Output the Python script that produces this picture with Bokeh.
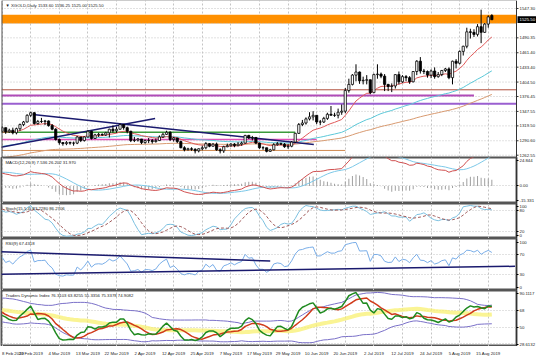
import numpy as np
from bokeh.plotting import figure
from bokeh.layouts import column
from bokeh.models import Range1d, FixedTicker, Label, BoxAnnotation, ColumnDataSource, Span
from bokeh.core.properties import value
from bokeh.embed import file_html
from bokeh.resources import INLINE

# ---------------- data ----------------
opens = [1309,1316,1308,1311,1306,1314,1322,1327,1340,1345,
 1324,1328,1328,1329,1320,1313,1293,1287,1285,1287,
 1286,1286,1298,1291,1298,1309,1295,1302,1303,1302,
 1306,1313,1310,1313,1322,1316,1309,1291,1292,1294,
 1287,1291,1291,1289,1291,1298,1303,1307,1293,1296,
 1289,1277,1273,1275,1274,1271,1275,1277,1285,1280,
 1284,1273,1271,1279,1281,1284,1281,1284,1286,1301,
 1296,1297,1286,1277,1277,1270,1273,1283,1285,1284,
 1279,1280,1288,1305,1322,1325,1333,1337,1340,1327,
 1327,1334,1342,1340,1340,1346,1348,1388,1400,1418,
 1424,1407,1408,1409,1384,1419,1420,1416,1400,1396,
 1397,1419,1405,1415,1413,1405,1425,1445,1426,1425,
 1418,1426,1415,1419,1427,1430,1413,1445,1441,1464,
 1474,1502,1501,1497,1512,1501,1517,1533.6]
highs = [1319,1316,1314,1316,1316,1324,1329,1342,1347,1346,
 1331,1335,1331,1330,1323,1315,1295,1288,1290,1289,
 1289,1300,1298,1299,1311,1310,1304,1306,1305,1308,
 1314,1320,1318,1324,1323,1318,1310,1298,1296,1294,
 1293,1296,1294,1295,1301,1306,1310,1309,1298,1296,
 1291,1280,1277,1278,1276,1276,1281,1288,1286,1286,
 1287,1276,1281,1285,1286,1286,1288,1289,1302,1302,
 1300,1298,1287,1280,1277,1275,1286,1288,1287,1286,
 1284,1290,1306,1325,1331,1336,1346,1348,1340,1331,
 1337,1345,1358,1345,1353,1361,1393,1411,1420,1439,
 1425,1415,1418,1409,1421,1439,1423,1420,1401,1402,
 1420,1425,1418,1418,1416,1426,1447,1453,1430,1427,
 1429,1433,1424,1428,1432,1433,1446,1449,1466,1475,
 1510,1508,1507,1517,1545,1519,1534,1536.25]
lows = [1306,1304,1306,1303,1303,1310,1319,1326,1337,1322,
 1322,1325,1321,1318,1311,1291,1283,1281,1282,1283,
 1281,1284,1288,1289,1297,1293,1294,1298,1300,1300,
 1297,1306,1306,1312,1312,1305,1288,1288,1289,1284,
 1285,1286,1285,1287,1290,1296,1302,1290,1289,1286,
 1276,1270,1272,1271,1266,1268,1272,1274,1278,1279,
 1271,1266,1267,1278,1279,1278,1280,1281,1285,1294,
 1291,1284,1275,1273,1268,1269,1272,1281,1282,1277,
 1275,1278,1287,1304,1319,1322,1330,1330,1323,1321,
 1325,1331,1340,1337,1334,1341,1344,1384,1398,1406,
 1401,1400,1400,1381,1383,1411,1412,1387,1387,1385,
 1392,1400,1403,1406,1401,1404,1418,1421,1420,1413,
 1412,1411,1413,1416,1424,1410,1400,1431,1439,1456,
 1470,1489,1492,1493,1480,1500,1510,1525]
closes = [1316,1308,1311,1306,1314,1322,1327,1340,1345,1324,
 1328,1328,1329,1320,1313,1293,1287,1285,1287,1286,
 1286,1298,1291,1298,1309,1295,1302,1303,1302,1306,
 1313,1310,1313,1322,1316,1309,1291,1292,1294,1287,
 1291,1291,1289,1291,1298,1303,1307,1293,1296,1289,
 1277,1273,1275,1274,1271,1275,1277,1285,1280,1284,
 1273,1271,1279,1281,1284,1281,1284,1286,1301,1296,
 1297,1286,1277,1277,1270,1273,1283,1285,1284,1279,
 1280,1288,1305,1322,1325,1333,1337,1340,1327,1327,
 1334,1342,1340,1340,1346,1348,1388,1400,1418,1424,
 1407,1408,1409,1384,1419,1420,1416,1400,1396,1397,
 1419,1405,1415,1413,1405,1425,1445,1426,1425,1418,
 1426,1415,1419,1427,1430,1413,1445,1441,1464,1474,
 1502,1501,1497,1512,1501,1517,1531,1525.5]
# closes before the first visible bar, only used to warm up the indicators
warmup_closes = [1211,1215,1222,1224,1222,1227,1227,1223,1222,1214,1221,1225,1222,
 1231,1239,1237,1238,1248,1244,1244,1246,1242,1238,1245,1249,1256,1258,1257,1269,1267,1276,1281,1282,
 1284,1294,1285,1289,1284,1292,1287,1290,1291,1288,1294,1292,1282,1277,1283,1283,1280,1298,1303,1312,
 1319,1321,1318,1312,1315,1307,1310]

date_labels = ["8 Feb 2019","20 Feb 2019","4 Mar 2019","13 Mar 2019","22 Mar 2019","2 Apr 2019",
 "12 Apr 2019","25 Apr 2019","7 May 2019","17 May 2019","29 May 2019","10 Jun 2019","20 Jun 2019",
 "2 Jul 2019","12 Jul 2019","24 Jul 2019","5 Aug 2019","15 Aug 2019"]
date_bars = [0,8,16,24,32,40,48,56,64,72,80,88,96,104,112,120,128,136]

price_ticks = [1547.30,1490.35,1461.40,1433.40,1404.50,1376.45,1347.55,1319.50,1290.60,1262.55]
price_grid = [1547.30,1518.35,1490.35,1461.40,1433.40,1404.50,1376.45,1347.55,1319.50,1290.60,1262.55]
last_price = 1525.50
zone_low, zone_high = 1518.0, 1535.0

hline_prices = [1389.5, 1378.5, 1362.4, 1307.3, 1293.0, 1271.8]
hline_end_bars = [143.9, 132.0, 143.9, 82.0, 88.0, 96.0]
trend_a_bars, trend_a_prices = [8.6, 87.2], [1341.6, 1283.3]
trend_b_bars, trend_b_prices = [-0.7, 42.8], [1277.5, 1333.8]
rsi_tl1_bars, rsi_tl1_vals = [-0.7, 75.0], [74.6, 56.8]
rsi_tl2_bars, rsi_tl2_vals = [-0.7, 143.5], [31.4, 46.6]

macd_min, macd_max = -15.331, 24.844
tdi_min, tdi_max = 28.6132, 90.1117

# ---------------- indicators ----------------
allc = np.array(warmup_closes + closes, float)
allh = np.array(warmup_closes + highs, float)
alll = np.array(warmup_closes + lows, float)
W0 = len(warmup_closes)
N = len(closes)
bars = np.arange(N)

def ema(x, n):
    a = 2.0 / (n + 1); out = np.empty(len(x)); out[0] = x[0]
    for i in range(1, len(x)):
        out[i] = a * x[i] + (1 - a) * out[i - 1]
    return out

def sma(x, n):
    return np.array([x[max(0, i - n + 1):i + 1].mean() for i in range(len(x))])

def rstd(x, n):
    return np.array([x[max(0, i - n + 1):i + 1].std() for i in range(len(x))])

def rsi(c, n):
    d = np.diff(c); g = np.maximum(d, 0); l = np.maximum(-d, 0)
    out = np.full(len(c), 50.0)
    ag = g[:n].mean(); al = l[:n].mean()
    for i in range(n, len(c)):
        if i > n:
            ag = (ag * (n - 1) + g[i - 1]) / n; al = (al * (n - 1) + l[i - 1]) / n
        out[i] = 100.0 if al == 0 else 100 - 100 / (1 + ag / al)
    return out

def stoch(h, l, c, k, d, s):
    hh = np.array([h[max(0, i - k + 1):i + 1].max() for i in range(len(c))])
    ll = np.array([l[max(0, i - k + 1):i + 1].min() for i in range(len(c))])
    num = c - ll; den = hh - ll
    K = np.array([100 * num[max(0, i - s + 1):i + 1].sum() / max(den[max(0, i - s + 1):i + 1].sum(), 1e-9)
                  for i in range(len(c))])
    return K, sma(K, d)

ma_red = ema(allc, 13)[W0:]
ma_cyan = ema(allc, 50)[W0:]
ma_tan = ema(allc, 100)[W0:]
macd_main = (ema(allc, 12) - ema(allc, 26))
macd_sig = sma(macd_main, 9)
macd_hist = (macd_main - macd_sig)[W0:]
macd_main = macd_main[W0:]; macd_sig = macd_sig[W0:]
st_k, st_d = stoch(allh, alll, allc, 15, 5, 4)
st_k = st_k[W0:]; st_d = st_d[W0:]
rsi9 = rsi(allc, 9)[W0:]
r13 = rsi(allc, 13)
tdi_green = sma(r13, 2)[W0:]
tdi_red = sma(r13, 7)[W0:]
tdi_mid = sma(r13, 34)
tdi_sd = rstd(r13, 34)
tdi_up = (tdi_mid + 1.6185 * tdi_sd)[W0:]
tdi_dn = (tdi_mid - 1.6185 * tdi_sd)[W0:]
tdi_mid = tdi_mid[W0:]

# ---------------- layout ----------------
FONT = "Liberation Sans"
FS = "4.3px"
TXT = "#222222"
GRID = "#c4c4c4"
EDGE = "#555555"
FW = 515                       # plot area width of the indicator windows (px)
X0, X1 = -0.17, 143.9          # bar range across that width
PX = FW / (X1 - X0)            # pixels per bar
xr = Range1d(X0, X1)

def panel(fh, yr, ticks, grid_ticks, overrides):
    p = figure(frame_width=FW, frame_height=fh, x_range=xr, y_range=Range1d(*yr),
               output_backend="svg", toolbar_location=None, y_axis_location="right",
               min_border_left=1, min_border_right=20, min_border_top=0, min_border_bottom=0)
    p.xaxis.visible = False
    ax = p.yaxis[0]
    ax.ticker = FixedTicker(ticks=ticks)
    ax.major_label_overrides = overrides
    ax.major_label_text_font_size = FS
    ax.major_label_text_font = FONT
    ax.major_label_text_color = TXT
    ax.major_label_standoff = 1
    ax.major_tick_out = 2; ax.major_tick_in = 0
    ax.minor_tick_out = 0; ax.minor_tick_in = 0
    ax.axis_line_color = "#333333"
    p.outline_line_color = EDGE; p.outline_line_width = 2
    p.xgrid.ticker = FixedTicker(ticks=date_bars)
    p.xgrid.grid_line_color = GRID; p.xgrid.grid_line_dash = "2 2"
    p.ygrid.ticker = FixedTicker(ticks=grid_ticks)
    p.ygrid.grid_line_color = GRID; p.ygrid.grid_line_dash = "1 2"
    p.border_fill_color = "white"
    return p

def title(p, text, fh):
    p.add_layout(Label(x=4, y=fh - 7, x_units="screen", y_units="screen", text=text,
                       text_font_size=FS, text_font=FONT, text_color=TXT))

# ---- main price window: its price scale is drawn inside a wider frame so the
#      black last-price tag can sit on the scale ----
MH = 157
P_LO, P_HI = 1258.1, 1562.8
PPX = (P_HI - P_LO) / MH        # price per pixel
MFW = FW + 20
pm = figure(frame_width=MFW, frame_height=MH, x_range=Range1d(X0, X0 + MFW / PX),
            y_range=Range1d(P_LO, P_HI), output_backend="svg", toolbar_location=None,
            x_axis_location=None, y_axis_location=None,
            min_border_left=1, min_border_right=0, min_border_top=0, min_border_bottom=0)
pm.outline_line_color = None
pm.ygrid.visible = False
pm.xgrid.ticker = FixedTicker(ticks=date_bars)
pm.xgrid.grid_line_color = GRID; pm.xgrid.grid_line_dash = "2 2"
AX = X1                          # price-scale line position
pm.segment(x0=X0, x1=AX, y0=price_grid, y1=price_grid, line_color=GRID, line_dash="1 2", line_width=1)
pm.add_layout(BoxAnnotation(left=X0, right=AX, bottom=zone_low, top=zone_high, fill_color="#ff9000",
                            fill_alpha=1.0, line_color=None, level="underlay"))
hl_colors = ["#b0503c", "#b04cb8", "#9a5fd0", "#3c9a3c", "#e050b8", "#d08a50"]
hl_widths = [1, 2, 2, 1.5, 1.5, 1]
for pr, xe, c, w in zip(hline_prices, hline_end_bars, hl_colors, hl_widths):
    pm.line([X0, xe], [pr, pr], line_color=c, line_width=w)
pm.line(bars, ma_tan, line_color="#d89a70", line_width=1)
pm.line(bars, ma_cyan, line_color="#5cc8d8", line_width=1)
pm.line(bars, ma_red, line_color="#e05a5a", line_width=1)
pm.line(trend_a_bars, trend_a_prices, line_color="#1a1a6e", line_width=1.5)
pm.line(trend_b_bars, trend_b_prices, line_color="#1a1a6e", line_width=1.5)
o = np.array(opens); c = np.array(closes)
cs = ColumnDataSource(dict(x=bars, h=highs, l=lows, top=np.maximum(o, c), bot=np.minimum(o, c),
                           fill=np.where(c >= o, "white", "black").tolist()))
pm.segment(x0="x", y0="l", x1="x", y1="h", source=cs, line_color="black", line_width=1)
pm.vbar(x="x", top="top", bottom="bot", width=0.62, source=cs, fill_color="fill",
        line_color="black", line_width=0.8)
# window edges and price scale
pm.add_layout(Span(location=X0, dimension="height", line_color=EDGE, line_width=2))
pm.segment(x0=X0, x1=AX, y0=P_LO, y1=P_LO, line_color=EDGE, line_width=2)
pm.segment(x0=X0, x1=AX, y0=P_HI, y1=P_HI, line_color="#9a9a9a", line_width=1)
pm.add_layout(Span(location=AX, dimension="height", line_color="#333333", line_width=1))
pm.segment(x0=AX, x1=AX + 2 / PX, y0=price_ticks, y1=price_ticks, line_color="#333333", line_width=1)
pm.text(x=AX + 3 / PX, y=price_ticks, text=[f"{v:.2f}" for v in price_ticks], text_align="left",
        text_baseline="middle", text_font_size=FS, text_font=value(FONT), text_color=TXT)
pm.quad(left=AX + 1 / PX, right=AX + 19.5 / PX, bottom=last_price - 3.4 * PPX, top=last_price + 3.4 * PPX,
        fill_color="black", line_color=None)
pm.text(x=AX + 3 / PX, y=[last_price], text=[f"{last_price:.2f}"], text_align="left",
        text_baseline="middle", text_font_size=FS, text_font=value(FONT), text_color="white")
title(pm, "\u25bc XGOLD,Daily  1533.60 1536.25 1525.00 1525.50", MH)

# MACD (extreme labels sit just inside the window, as on the reference)
H2 = 46
mpu = H2 / (macd_max - macd_min)
m_top, m_bot = macd_max - 3 / mpu, macd_min + 3 / mpu
pmacd = panel(H2, (macd_min, macd_max), [m_bot, 0.0, m_top], [0.0],
              {m_bot: f"{macd_min:.3f}", 0.0: "0.00", m_top: f"{macd_max:.3f}"})
pmacd.vbar(x=bars, top=macd_hist, bottom=0, width=0.28, fill_color="#a0a0a0", line_color=None)
pmacd.line(bars, macd_sig, line_color="#7cc8e8", line_width=1)
pmacd.line(bars, macd_main, line_color="#d05050", line_width=1)
title(pmacd, "MACD(12,26,9) 7.536 26.202 31.970", H2)

# Stochastic
H3 = 35
spu = H3 / 100.0
pst = panel(H3, (0, 100), [3 / spu, 20, 80, 100 - 3 / spu], [20, 80],
            {3 / spu: "0", 20: "20", 80: "80", 100 - 3 / spu: "100"})
pst.line(bars, st_k, line_color="#7cc0e0", line_width=1)
pst.line(bars, st_d, line_color="#a05a5a", line_width=1, line_dash="3 2")
title(pst, "Stoch(15,5,4) 83.2280 86.2706", H3)

# RSI
H4 = 52
rpu = H4 / 100.0
prsi = panel(H4, (0, 100), [3 / rpu, 30, 70, 100 - 3.5 / rpu], [30, 70],
             {3 / rpu: "0", 30: "30", 70: "70", 100 - 3.5 / rpu: "100"})
prsi.line(bars, rsi9, line_color="#7aaee8", line_width=1)
prsi.line(rsi_tl1_bars, rsi_tl1_vals, line_color="#1a1a6e", line_width=1.5)
prsi.line(rsi_tl2_bars, rsi_tl2_vals, line_color="#1a1a6e", line_width=1.5)
title(prsi, "RSI(9) 67.4318", H4)

# TDI
H5 = 56
tpu = H5 / (tdi_max - tdi_min)
t_top, t_bot = tdi_max - 3 / tpu, tdi_min + 2.5 / tpu
ptdi = panel(H5, (tdi_min, tdi_max), [t_bot, 50, 68, t_top], [32, 50, 68],
             {t_bot: f"{tdi_min:.4f}", 50: "50", 68: "68", t_top: f"{tdi_max:.4f}"})
ptdi.line(bars, tdi_mid, line_color="#f8f070", line_width=4, line_alpha=0.75)
ptdi.line(bars, tdi_up, line_color="#7a70c8", line_width=1)
ptdi.line(bars, tdi_dn, line_color="#7a70c8", line_width=1)
ptdi.line(bars, tdi_red, line_color="#d03a1a", line_width=1.5)
ptdi.line(bars, tdi_green, line_color="#1f8a1f", line_width=1.5)
title(ptdi, "Traders Dynamic Index 76.3103 63.8255 55.3356 75.3378 74.9082", H5)

# dates strip
pd_ = figure(frame_width=FW, frame_height=11, x_range=xr, y_range=Range1d(0, 1),
             output_backend="svg", toolbar_location=None,
             min_border_left=1, min_border_right=20, min_border_top=0, min_border_bottom=0)
pd_.axis.visible = False
pd_.grid.visible = False
pd_.outline_line_color = None
ds = ColumnDataSource(dict(x=date_bars, t=date_labels,
                           al=["left"] + ["center"] * (len(date_bars) - 1)))
pd_.text(x="x", y=0.5, text="t", text_align="al", text_baseline="middle", source=ds,
         text_font_size=FS, text_color=TXT, text_font=value(FONT))

layout = column(pm, pmacd, pst, prsi, ptdi, pd_, spacing=0)
open("out.html", "w").write(file_html(layout, INLINE))
